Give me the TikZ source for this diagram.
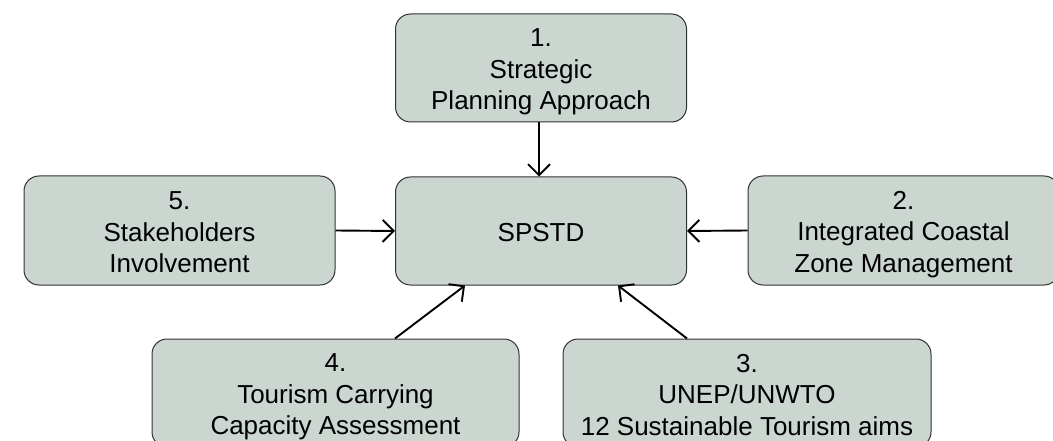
\documentclass[tikz,border=0pt]{standalone}
\usepackage{fontspec}
\setmainfont{Liberation Sans}
\usetikzlibrary{arrows.meta}
\definecolor{boxfill}{RGB}{202,214,207}
\definecolor{boxline}{RGB}{50,50,50}
\newcommand\topst{\rule{0pt}{26pt}}
\newcommand\botst{\rule[-5pt]{0pt}{5pt}}
\tikzset{
  stepbox/.style={draw=boxline, line width=1pt, fill=boxfill, rounded corners=15pt,
    align=center, font=\fontsize{26}{31.5}\selectfont, inner sep=0pt},
  link/.style={line width=1.9pt, -{Straight Barb[length=11pt,width=22pt,line width=1.9pt]}}
}
\begin{document}
\begin{tikzpicture}[x=1pt,y=-1pt]
\path[use as bounding box, clip] (0,0) rectangle (1053,441);
\node[stepbox, minimum width=291pt, minimum height=108pt] (b1) at (541,68) {\topst 1.\\Strategic\\Planning Approach\botst};
\node[stepbox, minimum width=291pt, minimum height=108pt] (c) at (541,231) {\topst SPSTD\botst};
\node[stepbox, minimum width=311pt, minimum height=109pt] (b5) at (179.5,230.5) {\topst 5.\\Stakeholders\\Involvement\botst};
\node[stepbox, minimum width=311pt, minimum height=109pt] (b2) at (903.5,230.5) {\topst 2.\\Integrated Coastal\\Zone Management\botst};
\node[stepbox, minimum width=367pt, minimum height=108pt] (b4) at (335.5,393) {\topst 4.\\Tourism Carrying\\Capacity Assessment\botst};
\node[stepbox, minimum width=368pt, minimum height=108pt] (b3) at (747,393) {\topst 3.\\UNEP/UNWTO\\12 Sustainable Tourism aims\botst};
\draw[link] ([xshift=-2pt]b1.south) -- ([xshift=-2pt]c.north);
\draw[link] (b5.east) -- (c.west);
\draw[link] (b2.west) -- (c.east);
\draw[link] ([xshift=59.5pt]b4.north) -- ([xshift=-76pt]c.south);
\draw[link] ([xshift=-60pt]b3.north) -- ([xshift=77pt]c.south);
\end{tikzpicture}
\end{document}
